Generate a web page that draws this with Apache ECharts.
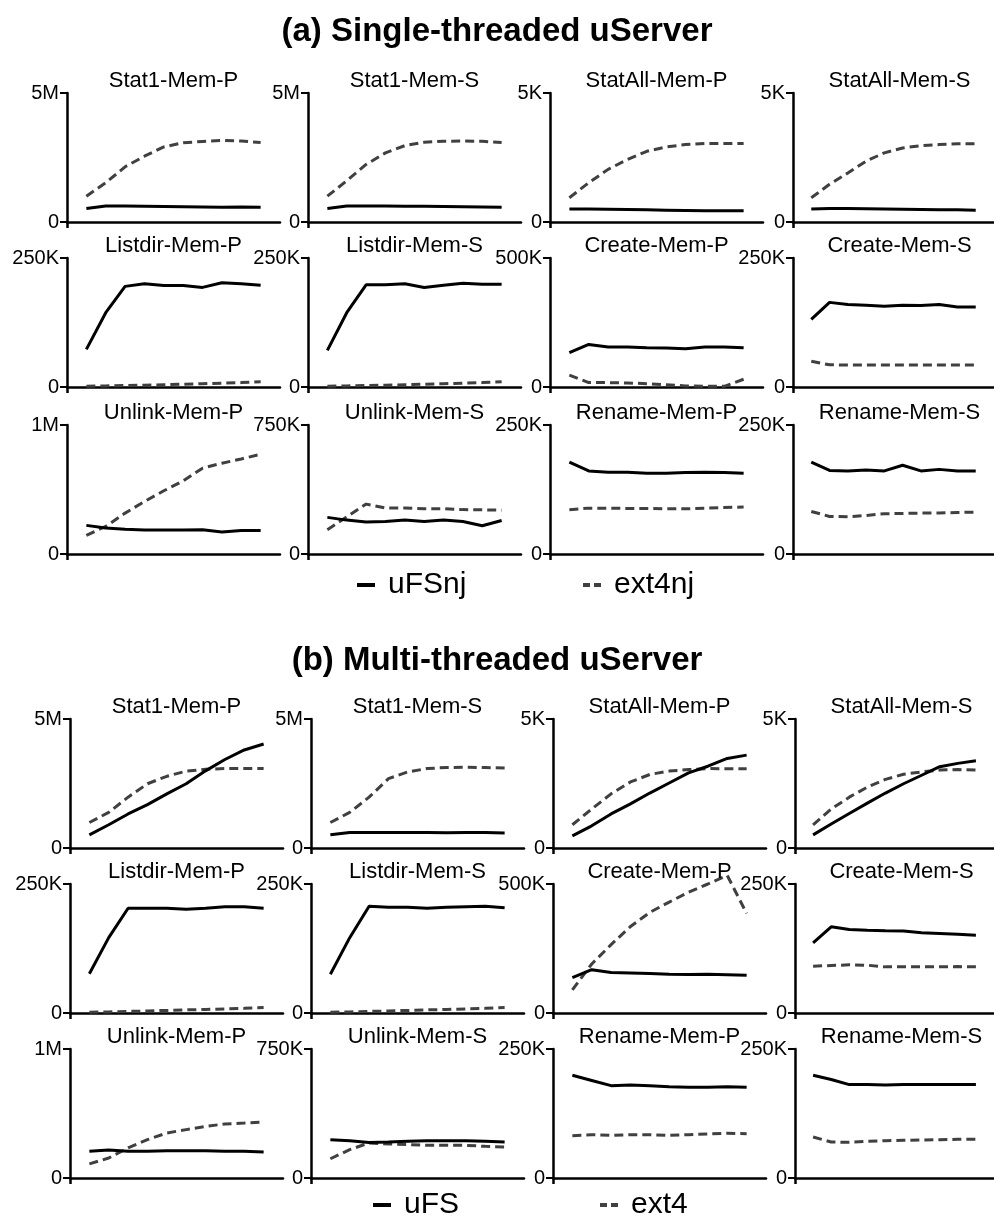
<!DOCTYPE html>
<html><head><meta charset="utf-8">
<script src="https://cdn.jsdelivr.net/npm/echarts@6/dist/echarts.min.js"></script>
<style>html,body{margin:0;padding:0;background:#fff}#c{width:994px;height:1217px}</style>
</head><body><div id="c"></div>
<script>
// ---------- data ----------
const xPoints = [1, 2, 3, 4, 5, 6, 7, 8, 9, 10];
const panelNames = ['Stat1-Mem-P','Stat1-Mem-S','StatAll-Mem-P','StatAll-Mem-S',
  'Listdir-Mem-P','Listdir-Mem-S','Create-Mem-P','Create-Mem-S',
  'Unlink-Mem-P','Unlink-Mem-S','Rename-Mem-P','Rename-Mem-S'];
const axisMax = [5, 5, 5, 5, 250, 250, 500, 250, 1, 750, 250, 250];
const tickLabels = ['5M','5M','5K','5K','250K','250K','500K','250K','1M','750K','250K','250K'];
const sectionTitles = ['(a) Single-threaded uServer', '(b) Multi-threaded uServer'];
const seriesNamesA = ['uFSnj', 'ext4nj'];
const seriesNamesB = ['uFS', 'ext4'];

const singleUFS = [
  [0.52,0.62,0.62,0.61,0.6,0.59,0.58,0.57,0.58,0.57],
  [0.52,0.62,0.62,0.62,0.61,0.61,0.6,0.59,0.58,0.57],
  [0.5,0.5,0.49,0.48,0.47,0.46,0.45,0.44,0.44,0.44],
  [0.5,0.52,0.52,0.51,0.5,0.49,0.48,0.47,0.47,0.46],
  [73,144,195,200,196.5,196.5,193,202,200,197],
  [71,144,198,198,200,193,197,201,199,199],
  [133,165,155,155,152,151,148,155,155,152],
  [131,164,160,158.5,156.6,158.5,158,160,155,155],
  [0.222,0.201,0.191,0.186,0.186,0.186,0.188,0.17,0.183,0.183],
  [213,197,186,189,197,189,197,189,164,195],
  [178,161,158.5,158.5,156.6,156.6,158,158.5,158,156.6],
  [178,162,161,163,161,172,161,164,161,161]
];
const singleExt4 = [
  [1.0,1.52,2.14,2.55,2.91,3.07,3.12,3.16,3.14,3.08],
  [1.0,1.6,2.23,2.68,2.96,3.09,3.13,3.14,3.13,3.08],
  [0.94,1.52,2.04,2.42,2.74,2.91,3.0,3.04,3.04,3.04],
  [0.94,1.46,1.9,2.36,2.68,2.87,2.96,3.0,3.03,3.03],
  [1.5,2,3,3.5,4.5,5.5,6.5,7.5,8.5,10],
  [1.5,2,3,3.5,4.5,5.5,6.5,7.5,8.5,10],
  [46,17,17,15.5,13,9,4,2.6,2.6,30],
  [50,43,42.5,42.5,42.5,42.5,42.5,42.5,42.5,42.5],
  [0.144,0.214,0.317,0.407,0.49,0.567,0.665,0.704,0.737,0.773],
  [141,216,290,267,267,263,263,258,257,255],
  [85.7,88.9,88.9,88.3,88.3,87.6,87.6,88.9,90.2,90.9],
  [82.5,72.8,72.2,74.7,78,78.6,79.3,79.3,80.5,81.2]
];
const multiUFS = [
  [0.51,0.9,1.32,1.68,2.1,2.49,2.99,3.43,3.8,4.03],
  [0.51,0.6,0.6,0.6,0.6,0.6,0.59,0.6,0.6,0.58],
  [0.47,0.86,1.32,1.71,2.13,2.52,2.91,3.17,3.47,3.6],
  [0.51,0.93,1.34,1.74,2.13,2.49,2.82,3.15,3.28,3.38],
  [76,146,203,203,203,201,203,206,206,203],
  [75,146,207,205,205,203,205,206,207,204],
  [137,168,157,155,153,150,149,150,148,146],
  [136,167,162,160.6,159.3,158.7,155.4,154.1,152.8,150.9],
  [0.207,0.217,0.207,0.207,0.212,0.212,0.212,0.207,0.207,0.202],
  [223,217,207,209,213,217,217,217,213,209],
  [199,189,179,180,179,177,176,176,177,176],
  [199,191,181,181,180,181,181,181,181,181]
];
const multiExt4 = [
  [0.99,1.38,1.97,2.49,2.78,2.98,3.05,3.08,3.08,3.08],
  [0.99,1.38,1.97,2.69,2.95,3.08,3.12,3.13,3.12,3.1],
  [0.9,1.51,2.1,2.56,2.85,2.98,3.04,3.08,3.07,3.07],
  [0.9,1.51,1.97,2.36,2.66,2.86,2.95,3.02,3.04,3.02],
  [1.5,2,3,4,5,6,7,8,9,10.5],
  [1.5,2,3,4,5,6,7,8,9,10.5],
  [90,190,265,335,390,430,468,500,533,386],
  [90.7,92,93.3,92.6,89.4,89.4,89.4,89.4,90,89.4],
  [0.109,0.155,0.233,0.297,0.349,0.375,0.4,0.419,0.426,0.434],
  [112,165,204,198,194,190,190,190,184,180],
  [82,84,82.7,84,84,82.7,84,85.3,86.6,85.9],
  [79.5,69.8,69.1,71,72.3,73,73.6,74.3,74.9,74.9]
];

// ---------- layout ----------
const FONT = "'Liberation Sans', Arial, Helvetica, sans-serif";
const gridW = 213, gridH = 129;
const sections = [
  { title: sectionTitles[0], titleTop: 10, cols: [67, 308, 550, 793], rows: [93, 258, 425],
    names: seriesNamesA, ufs: singleUFS, ext: singleExt4,
    legend: [{ left: 352, top: 565 }, { left: 578, top: 565 }] },
  { title: sectionTitles[1], titleTop: 639, cols: [70, 311, 553, 795], rows: [719, 884, 1049],
    names: seriesNamesB, ufs: multiUFS, ext: multiExt4,
    legend: [{ left: 368, top: 1185 }, { left: 595, top: 1185 }] }
];

const option = { animation: false, backgroundColor: '#fff',
  title: [], grid: [], xAxis: [], yAxis: [], series: [], legend: [] };

sections.forEach(sec => {
  option.title.push({ text: sec.title, left: 'center', top: sec.titleTop,
    textStyle: { fontFamily: FONT, fontWeight: 'bold', fontSize: 33, color: '#000' } });
  for (let p = 0; p < 12; p++) {
    const r = Math.floor(p / 4), c = p % 4;
    const left = sec.cols[c], top = sec.rows[r];
    const gi = option.grid.length;
    option.grid.push({ left: left, top: top, width: gridW, height: gridH });
    option.title.push({ text: panelNames[p], left: left + gridW / 2 - 5, textAlign: 'center', top: top - 28,
      textStyle: { fontFamily: FONT, fontWeight: 'normal', fontSize: 22, color: '#000' } });
    option.xAxis.push({ gridIndex: gi, type: 'value', min: 0, max: 11, interval: 11,
      axisLine: { show: true, lineStyle: { color: '#000', width: 2.5 } },
      axisTick: { show: true, length: 6, customValues: [0], lineStyle: { color: '#000', width: 2.5 } },
      axisLabel: { show: false }, splitLine: { show: false } });
    const lbl = tickLabels[p];
    option.yAxis.push({ gridIndex: gi, type: 'value', min: 0, max: axisMax[p], interval: axisMax[p],
      axisLine: { show: true, lineStyle: { color: '#000', width: 2.5 } },
      axisTick: { show: true, length: 7, lineStyle: { color: '#000', width: 2 } },
      axisLabel: { margin: 8, fontSize: 20, color: '#000', fontFamily: FONT,
        formatter: v => (v === 0 ? '0' : lbl) },
      splitLine: { show: false } });
    option.series.push({ type: 'line', name: sec.names[0], xAxisIndex: gi, yAxisIndex: gi,
      data: xPoints.map((x, i) => [x, sec.ufs[p][i]]), symbol: 'none', clip: false, z: 3,
      lineStyle: { color: '#000', width: 3 }, itemStyle: { color: '#000' } });
    option.series.push({ type: 'line', name: sec.names[1], xAxisIndex: gi, yAxisIndex: gi,
      data: xPoints.map((x, i) => [x, sec.ext[p][i]]), symbol: 'none', clip: false, z: 2,
      lineStyle: { color: '#404040', width: 3, type: [9, 5] }, itemStyle: { color: '#404040' } });
  }
  option.legend.push({ data: [{ name: sec.names[0], icon: 'rect' }],
    left: sec.legend[0].left, top: sec.legend[0].top,
    selectedMode: false, itemWidth: 18, itemHeight: 4,
    textStyle: { fontFamily: FONT, fontSize: 30, color: '#000', padding: [0, 0, 0, 8] } });
  option.legend.push({ data: [{ name: sec.names[1], icon: 'path://M0,0h7v4h-7z M11,0h7v4h-7z' }],
    left: sec.legend[1].left, top: sec.legend[1].top,
    selectedMode: false, itemWidth: 18, itemHeight: 4,
    textStyle: { fontFamily: FONT, fontSize: 30, color: '#000', padding: [0, 0, 0, 8] } });
});

const chart = echarts.init(document.getElementById('c'), null, { renderer: 'canvas' });
chart.setOption(option);
</script>
</body></html>
